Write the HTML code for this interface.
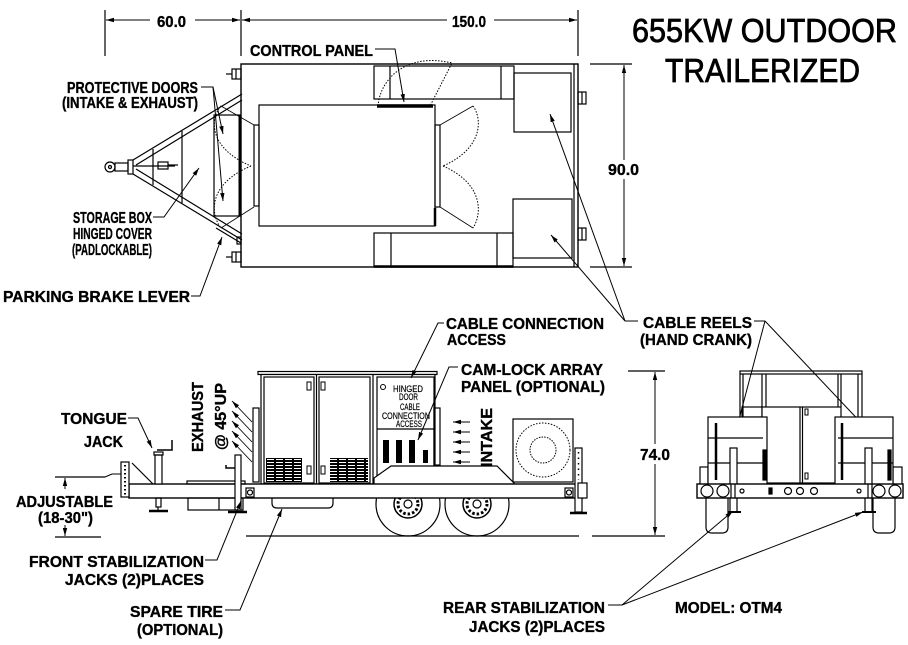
<!DOCTYPE html>
<html><head><meta charset="utf-8"><style>
html,body{margin:0;padding:0;background:#fff}
svg{display:block}
.t{font-family:"Liberation Sans",sans-serif;font-weight:bold;font-size:16px;fill:#000;stroke:#000;stroke-width:0.35}
.s{font-family:"Liberation Sans",sans-serif;font-size:9px;fill:#000;stroke:#000;stroke-width:0.2}
.ti{font-family:"Liberation Sans",sans-serif;font-size:33px;fill:#000;stroke:#000;stroke-width:0.8}
</style></head><body>
<svg width="908" height="645" viewBox="0 0 908 645" xmlns="http://www.w3.org/2000/svg">
<defs>
<marker id="a" markerWidth="9" markerHeight="6" refX="8" refY="3" orient="auto" markerUnits="userSpaceOnUse"><path d="M0,0.8 L8,3 L0,5.2 z" fill="#000"/></marker>
<pattern id="g" width="9" height="3" patternUnits="userSpaceOnUse" x="266" y="458"><rect x="0.5" y="0.5" width="8" height="2" fill="#fff" stroke="#000" stroke-width="1"/></pattern>
</defs>
<g fill="none" stroke="#000" stroke-width="1.2">

<!-- ===== TOP VIEW dimensions ===== -->
<line x1="105" y1="10" x2="105" y2="56"/>
<line x1="241" y1="10" x2="241" y2="56"/>
<line x1="578" y1="10" x2="578" y2="56"/>
<line x1="150" y1="20" x2="106" y2="20" marker-end="url(#a)" stroke-width="1"/>
<line x1="195" y1="20" x2="240" y2="20" marker-end="url(#a)" stroke-width="1"/>
<line x1="447" y1="20" x2="242" y2="20" marker-end="url(#a)" stroke-width="1"/>
<line x1="494" y1="20" x2="577" y2="20" marker-end="url(#a)" stroke-width="1"/>
<!-- 90.0 -->
<line x1="590" y1="64" x2="632" y2="64"/>
<line x1="590" y1="267" x2="632" y2="267"/>
<line x1="624" y1="160" x2="624" y2="65" marker-end="url(#a)" stroke-width="1"/>
<line x1="624" y1="179" x2="624" y2="266" marker-end="url(#a)" stroke-width="1"/>

<!-- body -->
<rect x="241" y="64" width="337" height="203" stroke-width="1.4"/>
<line x1="574" y1="64" x2="574" y2="267"/>
<!-- clips -->
<rect x="232" y="69" width="9" height="10"/><line x1="236" y1="69" x2="236" y2="79"/><line x1="226" y1="74" x2="232" y2="74"/>
<rect x="232" y="252" width="9" height="10"/><line x1="236" y1="252" x2="236" y2="262"/><line x1="226" y1="257" x2="232" y2="257"/>
<rect x="578" y="92" width="8" height="12"/><line x1="582" y1="92" x2="582" y2="104"/>
<rect x="578" y="228" width="8" height="12"/><line x1="582" y1="228" x2="582" y2="240"/>
<!-- engine -->
<rect x="259" y="105" width="176" height="121"/>
<rect x="254" y="125" width="5" height="81"/>
<rect x="435" y="125" width="5" height="82"/>
<line x1="435" y1="208" x2="435" y2="226" stroke-width="2.5"/>
<line x1="377" y1="106" x2="433" y2="106" stroke-width="3.5"/>
<!-- cable boxes -->
<rect x="374" y="66" width="140" height="33"/>
<line x1="390" y1="66" x2="390" y2="99"/><line x1="501" y1="66" x2="501" y2="99"/>
<rect x="374" y="233" width="139" height="34"/>
<line x1="391" y1="233" x2="391" y2="267"/><line x1="497" y1="233" x2="497" y2="267"/>
<line x1="374" y1="266.5" x2="513" y2="266.5" stroke-width="2.5"/>
<!-- reels -->
<rect x="514" y="73" width="57" height="59"/>
<rect x="513" y="199" width="59" height="59"/>
<!-- storage box -->
<rect x="214" y="115" width="26" height="101"/>
<line x1="240" y1="115" x2="240" y2="216" stroke-width="3"/>
<!-- A-frame -->
<line x1="133" y1="160" x2="242" y2="94"/>
<line x1="136" y1="165" x2="242" y2="100"/>
<line x1="133" y1="174" x2="242" y2="240"/>
<line x1="136" y1="169" x2="242" y2="234"/>
<line x1="216" y1="228" x2="241" y2="243"/>
<rect x="237" y="237" width="4" height="7"/>
<line x1="153" y1="149" x2="153" y2="185"/>
<line x1="182" y1="131" x2="182" y2="203"/>
<!-- coupler -->
<circle cx="110" cy="167" r="5"/><circle cx="110" cy="167" r="1.5"/>
<rect x="115" y="163" width="13" height="8"/>
<rect x="128" y="160" width="5" height="14"/>
<line x1="133" y1="166" x2="175" y2="166"/>
<rect x="158" y="162" width="10" height="7"/><line x1="168" y1="165" x2="178" y2="165"/>
<!-- dotted door swings -->
<g stroke-width="1" stroke-dasharray="1.5 1.5">
<path d="M473,106 C482,118 484,148 443,166"/>
<path d="M443,166 C484,184 482,214 473,228"/>
<path d="M221,106 C210,118 208,148 251,166"/>
<path d="M251,166 C208,184 210,214 221,228"/>
<path d="M378,106 C380,80 405,52 452,63 L430,106"/>
</g>
<line x1="440" y1="125" x2="473" y2="106" stroke-width="0.8"/>
<line x1="440" y1="207" x2="473" y2="228" stroke-width="0.8"/>
<line x1="254" y1="125" x2="221" y2="106" stroke-width="0.8"/>
<line x1="254" y1="207" x2="221" y2="228" stroke-width="0.8"/>

<!-- top view leaders -->
<g stroke-width="1">
<polyline points="375,49 395,49 404,102" marker-end="url(#a)"/>
<polyline points="201,87 213,87 223,134" marker-end="url(#a)"/>
<line x1="213" y1="87" x2="223" y2="201" marker-end="url(#a)"/>
<polyline points="153,217 164,217 199,168" marker-end="url(#a)"/>
<polyline points="191,296 200,296 222,237" marker-end="url(#a)"/>
<line x1="625" y1="321" x2="550" y2="114" marker-end="url(#a)"/>
<line x1="625" y1="321" x2="551" y2="235" marker-end="url(#a)"/>
<line x1="625" y1="321" x2="638" y2="321"/>
<line x1="754" y1="321" x2="765" y2="321"/>
<line x1="765" y1="321" x2="737" y2="427" marker-end="url(#a)"/>
<line x1="765" y1="321" x2="866" y2="428" marker-end="url(#a)"/>
</g>

<!-- ===== SIDE VIEW ===== -->
<!-- wheels -->
<g>
<circle cx="408" cy="504" r="32"/>
<circle cx="477" cy="504" r="32"/>
<circle cx="408" cy="504" r="14" stroke-width="1.5"/>
<circle cx="477" cy="504" r="14" stroke-width="1.5"/>
<circle cx="408" cy="504" r="10" stroke-width="3" stroke-dasharray="2.5 2"/>
<circle cx="477" cy="504" r="10" stroke-width="3" stroke-dasharray="2.5 2"/>
<circle cx="408" cy="504" r="4"/>
<circle cx="477" cy="504" r="4"/>
</g>
<!-- ground lines -->
<line x1="246" y1="536" x2="579" y2="536"/>
<line x1="55" y1="537" x2="101" y2="537"/>
<line x1="592" y1="536" x2="665" y2="536"/>
<!-- enclosure -->
<rect x="258" y="371.5" width="179" height="3" fill="#fff"/>
<rect x="261" y="374.5" width="174" height="109.5" fill="#fff"/>
<rect x="264" y="377" width="50" height="106"/>
<rect x="319" y="377" width="51" height="106"/>
<line x1="316.5" y1="375" x2="316.5" y2="484"/>
<line x1="373" y1="375" x2="373" y2="484"/>
<rect x="377" y="377" width="57" height="106"/>
<line x1="377" y1="429" x2="434" y2="429"/>
<rect x="253" y="408" width="6" height="74"/>
<rect x="434" y="408" width="6" height="57"/>
<rect x="266" y="458" width="36" height="24" fill="url(#g)" stroke="none"/>
<rect x="330" y="458" width="38" height="24" fill="url(#g)" stroke="none"/>
<rect x="307" y="382" width="4" height="8" stroke-width="1"/>
<rect x="321" y="382" width="4" height="8" stroke-width="1"/>
<rect x="307" y="466" width="4" height="8" stroke-width="1"/>
<rect x="321" y="466" width="4" height="8" stroke-width="1"/>
<circle cx="383" cy="387" r="2.5" stroke-width="1"/>
<g fill="#000" stroke="none">
<rect x="383" y="440" width="6" height="23"/>
<rect x="396" y="440" width="6" height="23"/>
<rect x="409" y="440" width="6" height="23"/>
<rect x="423" y="450" width="5" height="13"/>
</g>
<!-- fender -->
<path d="M374,484 L374,478 L391,466 L497,466 L514,483 L514,484" fill="#fff"/>
<!-- intake box -->
<rect x="513" y="419" width="60" height="63" fill="#fff"/>
<circle cx="543" cy="450" r="27" stroke-width="1" stroke-dasharray="1.5 1.5"/>
<circle cx="543" cy="450" r="13" stroke-width="1" stroke-dasharray="1.5 1.2"/>
<!-- beam -->
<rect x="129" y="484" width="454" height="14" fill="#fff" stroke-width="1.4"/>
<rect x="121" y="462" width="8" height="35" fill="#fff"/>
<line x1="125" y1="465" x2="125" y2="495" stroke-width="2" stroke-dasharray="1.5 2.5"/>
<line x1="132" y1="463" x2="153" y2="484"/>
<polyline points="105,477 112,474 121,474" stroke-width="1"/>
<!-- deck box & under box -->
<rect x="187" y="481" width="58" height="3"/>
<rect x="188" y="498" width="55" height="12"/>
<line x1="219" y1="498" x2="219" y2="510"/>
<!-- spare tire -->
<path d="M272,498 L272,503 Q272,508 277,508 L328,508 Q333,508 333,503 L333,498"/>
<!-- light boxes -->
<rect x="246" y="488" width="8" height="9"/><circle cx="250" cy="492.5" r="2.5"/>
<rect x="565" y="488" width="8" height="9"/><circle cx="569" cy="492.5" r="2.5"/>
<!-- tongue jack -->
<rect x="155" y="455" width="7" height="29" fill="#fff"/>
<rect x="154" y="452" width="9" height="3"/>
<rect x="156" y="498" width="5" height="9"/>
<line x1="149" y1="511" x2="168" y2="511" stroke-width="2.5"/>
<line x1="158" y1="507" x2="158" y2="511"/>
<polyline points="157,450 172,450 172,440" stroke-width="1.5"/>
<!-- front stab jack -->
<rect x="235" y="455" width="6" height="55" fill="#fff"/>
<line x1="228" y1="512" x2="247" y2="512" stroke-width="2.5"/>
<polyline points="235,468 226,468 226,465" stroke-width="1.5"/>
<!-- rear jack & post -->
<rect x="575" y="448" width="7" height="64" fill="#fff"/>
<line x1="578.5" y1="452" x2="578.5" y2="480" stroke-width="1.5" stroke-dasharray="1.5 4"/>
<rect x="578" y="483" width="9" height="15" fill="#fff"/>
<line x1="570" y1="513" x2="587" y2="513" stroke-width="2.5"/>
<!-- exhaust arrows -->
<g stroke-width="0.9">
<line x1="252" y1="422" x2="232" y2="401" marker-end="url(#a)"/>
<line x1="252" y1="432" x2="232" y2="411" marker-end="url(#a)"/>
<line x1="252" y1="442" x2="232" y2="421" marker-end="url(#a)"/>
<line x1="252" y1="452" x2="232" y2="431" marker-end="url(#a)"/>
<line x1="252" y1="462" x2="232" y2="441" marker-end="url(#a)"/>
<!-- intake arrows -->
<line x1="470" y1="422" x2="453" y2="422" marker-end="url(#a)"/>
<line x1="470" y1="432" x2="453" y2="432" marker-end="url(#a)"/>
<line x1="470" y1="442" x2="453" y2="442" marker-end="url(#a)"/>
<line x1="470" y1="452" x2="453" y2="452" marker-end="url(#a)"/>
<line x1="470" y1="462" x2="453" y2="462" marker-end="url(#a)"/>
</g>
<!-- side dims -->
<line x1="55" y1="477" x2="105" y2="477"/>
<line x1="65" y1="489" x2="65" y2="478" marker-end="url(#a)" stroke-width="1"/>
<line x1="65" y1="525" x2="65" y2="536" marker-end="url(#a)" stroke-width="1"/>
<line x1="628" y1="371" x2="665" y2="371"/>
<line x1="655" y1="444" x2="655" y2="372" marker-end="url(#a)" stroke-width="1"/>
<line x1="655" y1="464" x2="655" y2="535" marker-end="url(#a)" stroke-width="1"/>
<!-- side leaders -->
<g stroke-width="1">
<polyline points="128,418 138,418 152,448" marker-end="url(#a)"/>
<polyline points="205,560 217,560 241,501" marker-end="url(#a)"/>
<polyline points="225,610 240,610 282,509" marker-end="url(#a)"/>
<polyline points="444,323 438,323 411,378" marker-end="url(#a)"/>
<polyline points="458,367 449,367 418,440" marker-end="url(#a)"/>
<polyline points="608,605 622,605 733,511" marker-end="url(#a)"/>
<line x1="622" y1="605" x2="863" y2="512" marker-end="url(#a)"/>
</g>

<!-- ===== REAR VIEW ===== -->
<rect x="740" y="371" width="122" height="3"/>
<line x1="740" y1="374" x2="740" y2="417"/><line x1="743" y1="374" x2="743" y2="417"/>
<line x1="762" y1="374" x2="762" y2="407"/><line x1="766" y1="374" x2="766" y2="407"/>
<line x1="838" y1="374" x2="838" y2="407"/><line x1="841" y1="374" x2="841" y2="407"/>
<line x1="858" y1="374" x2="858" y2="417"/><line x1="862" y1="374" x2="862" y2="417"/>
<rect x="742" y="407" width="20" height="10"/>
<rect x="762" y="407" width="79" height="76" fill="#fff"/>
<line x1="800" y1="407" x2="800" y2="483"/><line x1="802.5" y1="407" x2="802.5" y2="483"/>
<rect x="805" y="409" width="3" height="6" stroke-width="1"/>
<rect x="805" y="473" width="3" height="6" stroke-width="1"/>
<rect x="700" y="467" width="8" height="18"/>
<rect x="893" y="467" width="9" height="18"/>
<rect x="708" y="417" width="59" height="68" fill="#fff"/>
<line x1="708" y1="438" x2="763" y2="438"/><line x1="708" y1="463" x2="763" y2="463"/>
<line x1="716" y1="423" x2="716" y2="480" stroke-width="2.5"/>
<rect x="763" y="450" width="3" height="30" fill="#000"/>
<rect x="835" y="417" width="58" height="68" fill="#fff"/>
<line x1="838" y1="438" x2="893" y2="438"/><line x1="838" y1="463" x2="893" y2="463"/>
<line x1="842" y1="423" x2="842" y2="480" stroke-width="2.5"/>
<rect x="888" y="450" width="3" height="30" fill="#000"/>
<!-- jacks posts -->
<rect x="730" y="448" width="7" height="64" fill="#fff"/>
<rect x="865" y="448" width="7" height="64" fill="#fff"/>
<!-- tires -->
<path d="M706,498 L706,527 Q706,533 712,533 L722,533 Q728,533 728,527 L728,498"/>
<path d="M873,498 L873,527 Q873,533 879,533 L889,533 Q895,533 895,527 L895,498"/>
<!-- beam -->
<rect x="697" y="484" width="206" height="14" fill="#fff" stroke-width="1.4"/>
<circle cx="707" cy="491" r="6"/><circle cx="723" cy="491" r="6"/>
<circle cx="879" cy="491" r="6"/><circle cx="895" cy="491" r="6"/>
<line x1="731" y1="484" x2="731" y2="498"/><line x1="735" y1="484" x2="735" y2="498"/>
<line x1="868" y1="484" x2="868" y2="498"/><line x1="872" y1="484" x2="872" y2="498"/>
<circle cx="788" cy="491" r="3.5"/><circle cx="800" cy="491" r="3.5"/><circle cx="814" cy="491" r="3.5"/>
<rect x="769" y="488" width="3" height="6" fill="#000"/>
<circle cx="742" cy="491" r="2"/><circle cx="859" cy="491" r="2"/>
<line x1="728" y1="512" x2="741" y2="512" stroke-width="2"/>
<line x1="862" y1="512" x2="876" y2="512" stroke-width="2"/>
</g>

<!-- ===== TEXT ===== -->
<text class="ti" x="632" y="42" textLength="265" lengthAdjust="spacingAndGlyphs">655KW OUTDOOR</text>
<text class="ti" x="665" y="82" textLength="195" lengthAdjust="spacingAndGlyphs">TRAILERIZED</text>

<text class="t" x="157" y="27" font-size="15" textLength="29" lengthAdjust="spacingAndGlyphs">60.0</text>
<text class="t" x="452" y="27" font-size="15" textLength="34" lengthAdjust="spacingAndGlyphs">150.0</text>
<text class="t" x="608" y="175" font-size="15" textLength="31" lengthAdjust="spacingAndGlyphs">90.0</text>
<text class="t" x="640" y="460" font-size="15" textLength="30" lengthAdjust="spacingAndGlyphs">74.0</text>

<text class="t" x="250" y="56" textLength="123" lengthAdjust="spacingAndGlyphs">CONTROL PANEL</text>
<text class="t" x="67" y="93" textLength="131" lengthAdjust="spacingAndGlyphs">PROTECTIVE DOORS</text>
<text class="t" x="62" y="108" textLength="136" lengthAdjust="spacingAndGlyphs">(INTAKE &amp; EXHAUST)</text>
<text class="t" x="73" y="223" textLength="79" lengthAdjust="spacingAndGlyphs">STORAGE BOX</text>
<text class="t" x="73" y="239" textLength="79" lengthAdjust="spacingAndGlyphs">HINGED COVER</text>
<text class="t" x="72" y="255" textLength="80" lengthAdjust="spacingAndGlyphs">(PADLOCKABLE)</text>
<text class="t" x="3" y="302" textLength="187" lengthAdjust="spacingAndGlyphs">PARKING BRAKE LEVER</text>

<text class="t" x="643" y="328" textLength="109" lengthAdjust="spacingAndGlyphs">CABLE REELS</text>
<text class="t" x="640" y="345" textLength="112" lengthAdjust="spacingAndGlyphs">(HAND CRANK)</text>
<text class="t" x="446" y="329" textLength="158" lengthAdjust="spacingAndGlyphs">CABLE CONNECTION</text>
<text class="t" x="447" y="345" textLength="59" lengthAdjust="spacingAndGlyphs">ACCESS</text>
<text class="t" x="461" y="375" textLength="142" lengthAdjust="spacingAndGlyphs">CAM-LOCK ARRAY</text>
<text class="t" x="461" y="392" textLength="144" lengthAdjust="spacingAndGlyphs">PANEL (OPTIONAL)</text>

<text class="t" x="61" y="424" textLength="66" lengthAdjust="spacingAndGlyphs">TONGUE</text>
<text class="t" x="84" y="447" textLength="39" lengthAdjust="spacingAndGlyphs">JACK</text>
<text class="t" x="16" y="507" textLength="97" lengthAdjust="spacingAndGlyphs">ADJUSTABLE</text>
<text class="t" x="38" y="523" textLength="55" lengthAdjust="spacingAndGlyphs">(18-30")</text>

<text class="t" transform="translate(203,452) rotate(-90)" textLength="70" lengthAdjust="spacingAndGlyphs">EXHAUST</text>
<text class="t" transform="translate(226,450) rotate(-90)" textLength="67" lengthAdjust="spacingAndGlyphs">@ 45°UP</text>
<text class="t" transform="translate(492,467) rotate(-90)" textLength="59" lengthAdjust="spacingAndGlyphs">INTAKE</text>

<text class="s" x="393" y="392" textLength="30" lengthAdjust="spacingAndGlyphs">HINGED</text>
<text class="s" x="399" y="400" textLength="19" lengthAdjust="spacingAndGlyphs">DOOR</text>
<text class="s" x="400" y="410" textLength="20" lengthAdjust="spacingAndGlyphs">CABLE</text>
<text class="s" x="382" y="419" textLength="48" lengthAdjust="spacingAndGlyphs">CONNECTION</text>
<text class="s" x="396" y="427" textLength="26" lengthAdjust="spacingAndGlyphs">ACCESS</text>

<text class="t" x="29" y="567" textLength="175" lengthAdjust="spacingAndGlyphs">FRONT STABILIZATION</text>
<text class="t" x="65" y="585" textLength="139" lengthAdjust="spacingAndGlyphs">JACKS (2)PLACES</text>
<text class="t" x="130" y="617" textLength="93" lengthAdjust="spacingAndGlyphs">SPARE TIRE</text>
<text class="t" x="137" y="635" textLength="86" lengthAdjust="spacingAndGlyphs">(OPTIONAL)</text>
<text class="t" x="443" y="613" textLength="162" lengthAdjust="spacingAndGlyphs">REAR STABILIZATION</text>
<text class="t" x="469" y="632" textLength="136" lengthAdjust="spacingAndGlyphs">JACKS (2)PLACES</text>
<text class="t" x="675" y="613" textLength="107" lengthAdjust="spacingAndGlyphs">MODEL: OTM4</text>
</svg>
</body></html>
